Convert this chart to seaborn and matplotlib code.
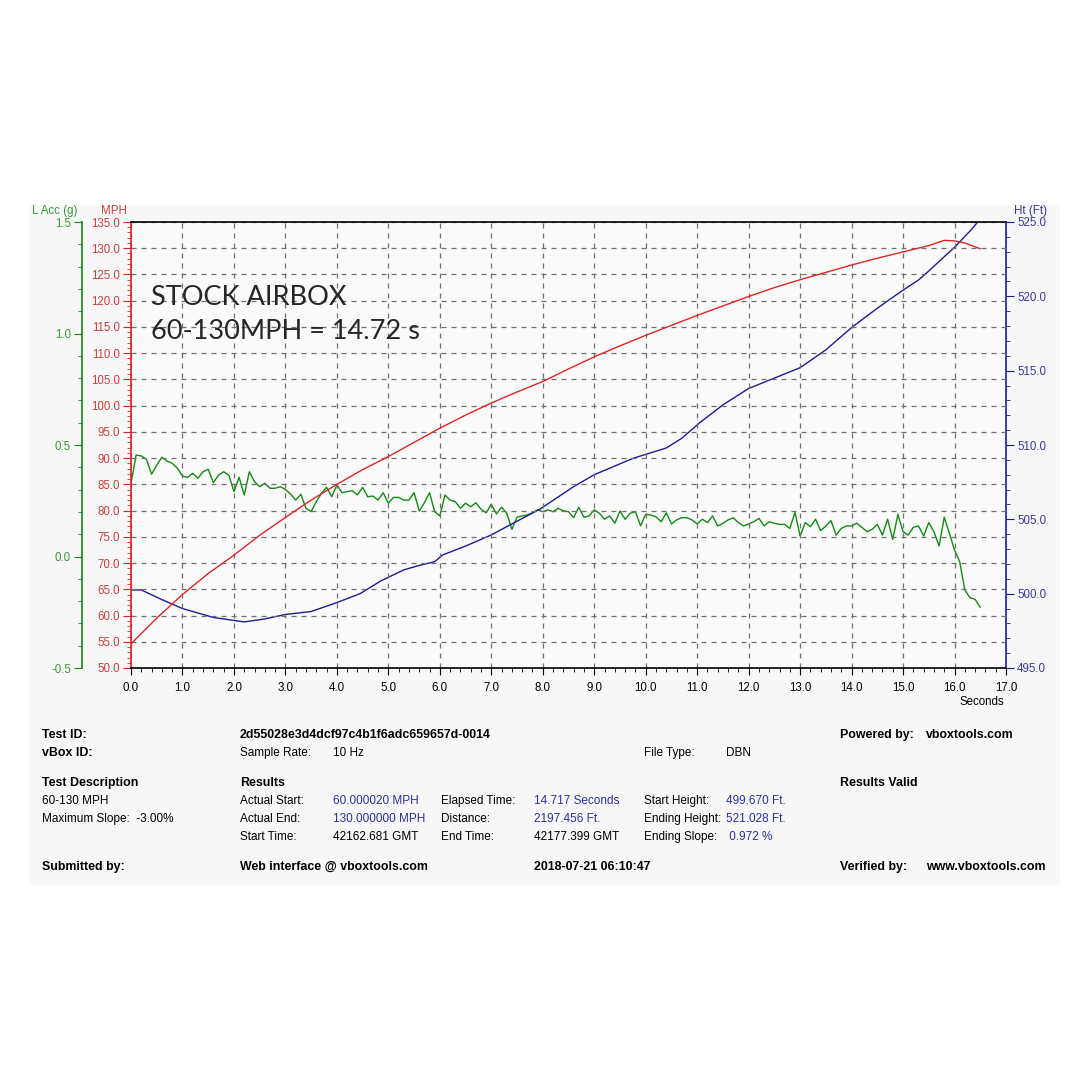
import matplotlib
matplotlib.use("Agg")
import matplotlib.pyplot as plt
import matplotlib.ticker as mticker
from matplotlib.patches import Rectangle
import numpy as np
import pandas as pd
import seaborn as sns

# speed (MPH)
mph_t = [0.0, 0.5, 1.0, 1.5, 2.0, 2.5, 3.0, 3.5, 4.0, 4.5, 5.0, 5.5, 6.0, 6.5, 7.0, 7.5,
         8.0, 8.5, 9.0, 9.5, 10.0, 10.5, 11.0, 11.5, 12.0, 12.5, 13.0, 13.5, 14.0, 14.5,
         15.0, 15.5, 15.8, 16.0, 16.2, 16.5]
mph_v = [54.6, 59.5, 64.0, 68.0, 71.5, 75.3, 78.7, 82.0, 85.0, 87.8, 90.3, 93.0, 95.7, 98.2,
         100.5, 102.6, 104.6, 107.0, 109.3, 111.4, 113.4, 115.3, 117.2, 119.0, 120.8, 122.5,
         124.0, 125.4, 126.8, 128.1, 129.3, 130.5, 131.5, 131.4, 131.0, 129.9]

# height (ft)
ht_t = [0.0, 0.2, 0.6, 1.0, 1.6, 2.0, 2.2, 2.6, 3.0, 3.5, 4.0, 4.45, 4.85, 5.3, 5.6, 5.9,
        6.05, 6.5, 7.0, 7.35, 7.95, 8.6, 9.0, 9.75, 10.4, 10.7, 11.05, 11.5, 12.0, 12.5,
        13.0, 13.5, 14.0, 14.5, 14.95, 15.3, 15.45, 16.0, 16.33, 16.45]
ht_v = [500.25, 500.25, 499.6, 499.0, 498.4, 498.2, 498.1, 498.3, 498.6, 498.8, 499.4, 500.0,
        500.85, 501.6, 501.9, 502.15, 502.6, 503.2, 503.95, 504.6, 505.7, 507.2, 508.0, 509.1,
        509.8, 510.45, 511.5, 512.7, 513.8, 514.5, 515.2, 516.4, 517.9, 519.2, 520.3, 521.1,
        521.55, 523.3, 524.5, 525.0]

# longitudinal acceleration (g), logged at 10 Hz from t = 0
SAMPLE_RATE = 10
acc_g = [0.328, 0.455, 0.451, 0.436, 0.369, 0.410, 0.445, 0.428, 0.418, 0.396, 0.361, 0.355,
         0.373, 0.351, 0.380, 0.391, 0.331, 0.365, 0.380, 0.365, 0.291, 0.355, 0.276, 0.380,
         0.335, 0.313, 0.328, 0.306, 0.306, 0.313, 0.301, 0.280, 0.253, 0.279, 0.216, 0.201,
         0.246, 0.283, 0.310, 0.268, 0.321, 0.286, 0.291,
         0.295, 0.276, 0.310, 0.268, 0.271, 0.253, 0.286, 0.239, 0.265, 0.265, 0.253, 0.253,
         0.286, 0.204, 0.241, 0.286, 0.201, 0.182, 0.276, 0.253, 0.246, 0.216, 0.239, 0.223,
         0.241, 0.212, 0.196, 0.234, 0.191, 0.221, 0.194, 0.122, 0.176, 0.182, 0.186, 0.196,
         0.209, 0.201, 0.209, 0.201, 0.216,
         0.205, 0.201, 0.174, 0.221, 0.176, 0.182, 0.209, 0.194, 0.167, 0.182, 0.149, 0.204,
         0.167, 0.194, 0.201, 0.138, 0.189, 0.186, 0.178, 0.156, 0.196, 0.146, 0.164, 0.174,
         0.174, 0.164, 0.146, 0.167, 0.152, 0.182, 0.137, 0.149, 0.164, 0.174, 0.152, 0.137,
         0.146, 0.156, 0.171, 0.137, 0.156,
         0.149, 0.144, 0.144, 0.126, 0.198, 0.092, 0.152, 0.134, 0.167, 0.116, 0.137, 0.161,
         0.096, 0.126, 0.137, 0.137, 0.149, 0.131, 0.111, 0.122, 0.144, 0.096, 0.167, 0.077,
         0.189, 0.111, 0.096, 0.131, 0.137, 0.092, 0.152, 0.111, 0.047, 0.176, 0.104, 0.029,
         -0.023, -0.150, -0.185, -0.192, -0.228]

RED = "#e02424"
BLUE = "#1c1c96"
GREEN = "#138a13"
RED_TXT = "#c84040"
BLUE_TXT = "#3a3a9a"
GREEN_TXT = "#3a9a3a"
VAL_BLUE = "#2e2ea0"

sns.set_style("white")
plt.rcParams["font.family"] = ["Liberation Sans", "DejaVu Sans"]

df_mph = pd.DataFrame({"t": mph_t, "mph": mph_v})
df_ht = pd.DataFrame({"t": ht_t, "ht": ht_v})
df_acc = pd.DataFrame({"t": np.arange(len(acc_g)) / SAMPLE_RATE, "g": acc_g})

W = H = 1089
fig = plt.figure(figsize=(10.89, 10.89), dpi=100)
fig.patch.set_facecolor("white")
# light report panel behind chart and table
fig.patches.append(Rectangle((30 / W, 1 - 885 / H), 1030 / W, 680 / H,
                             transform=fig.transFigure, facecolor="#f7f7f7",
                             edgecolor="none", zorder=-10))
fig.patches.append(Rectangle((131 / W, 1 - 668 / H), 875 / W, 446 / H,
                             transform=fig.transFigure, facecolor="#fafafa",
                             edgecolor="none", zorder=-5))

ax = fig.add_axes([131 / W, 1 - 668 / H, 875 / W, 446 / H])
ax_g = ax.twinx()
ax_h = ax.twinx()

sns.lineplot(data=df_acc, x="t", y="g", ax=ax_g, color=GREEN, lw=1.0)
sns.lineplot(data=df_ht, x="t", y="ht", ax=ax_h, color=BLUE, lw=1.0)
sns.lineplot(data=df_mph, x="t", y="mph", ax=ax, color=RED, lw=1.0)
# speed trace on top of the twins
ax.set_zorder(3)
ax.patch.set_visible(False)
ax_g.set_zorder(1)
ax_h.set_zorder(2)

# main (MPH) axis
ax.set_xlim(0, 17)
ax.set_ylim(50, 135)
ax.xaxis.set_major_locator(mticker.MultipleLocator(1))
ax.xaxis.set_minor_locator(mticker.MultipleLocator(0.2))
ax.yaxis.set_major_locator(mticker.MultipleLocator(5))
ax.yaxis.set_minor_locator(mticker.MultipleLocator(1))
ax.xaxis.set_major_formatter(mticker.FormatStrFormatter("%.1f"))
ax.yaxis.set_major_formatter(mticker.FormatStrFormatter("%.1f"))
ax.grid(True, which="major", color="#707070", lw=0.9, ls=(0, (4, 4)))
ax.set_xlabel("")
ax.set_ylabel("")
ax.tick_params(axis="x", which="both", direction="out", colors="black", labelsize=8.3,
               bottom=True, pad=5)
ax.tick_params(axis="x", which="major", length=5)
ax.tick_params(axis="x", which="minor", length=3)
ax.tick_params(axis="y", which="both", direction="out", color=RED, labelcolor=RED_TXT,
               labelsize=8.3, left=True, pad=2)
ax.tick_params(axis="y", which="major", length=6)
ax.tick_params(axis="y", which="minor", length=3)
for s in ["top", "bottom"]:
    ax.spines[s].set_color("black")
    ax.spines[s].set_linewidth(1.2)
ax.spines["left"].set_color(RED)
ax.spines["left"].set_linewidth(1.2)
ax.spines["right"].set_visible(False)

# acceleration axis, offset to the left
ax_g.set_ylim(-0.5, 1.5)
ax_g.yaxis.set_ticks_position("left")
ax_g.yaxis.set_label_position("left")
ax_g.spines["left"].set_position(("outward", 49 * 0.72))
ax_g.spines["left"].set_visible(True)
ax_g.spines["left"].set_color(GREEN)
ax_g.spines["left"].set_linewidth(1.2)
for s in ["right", "top", "bottom"]:
    ax_g.spines[s].set_visible(False)
ax_g.yaxis.set_major_locator(mticker.MultipleLocator(0.5))
ax_g.yaxis.set_minor_locator(mticker.MultipleLocator(0.1))
ax_g.yaxis.set_major_formatter(mticker.FormatStrFormatter("%.1f"))
ax_g.tick_params(axis="y", which="both", direction="out", color=GREEN, labelcolor=GREEN_TXT,
                 labelsize=8.3, pad=2)
ax_g.tick_params(axis="y", which="major", length=6)
ax_g.tick_params(axis="y", which="minor", length=3)
ax_g.set_ylabel("")

# height axis on the right
ax_h.set_ylim(495, 525)
ax_h.yaxis.set_major_locator(mticker.MultipleLocator(5))
ax_h.yaxis.set_minor_locator(mticker.MultipleLocator(1))
ax_h.yaxis.set_major_formatter(mticker.FormatStrFormatter("%.1f"))
ax_h.spines["right"].set_color(BLUE)
ax_h.spines["right"].set_linewidth(1.2)
for s in ["left", "top", "bottom"]:
    ax_h.spines[s].set_visible(False)
ax_h.tick_params(axis="y", which="both", direction="out", color=BLUE, labelcolor=BLUE_TXT,
                 labelsize=8.3, pad=2)
ax_h.tick_params(axis="y", which="major", length=6)
ax_h.tick_params(axis="y", which="minor", length=3)
ax_h.set_ylabel("")

# axis titles
fig.text(32 / W, 1 - 211 / H, "L Acc (g)", color=GREEN_TXT, fontsize=8.3, va="center")
fig.text(101 / W, 1 - 211 / H, "MPH", color=RED_TXT, fontsize=8.3, va="center")
fig.text(1014 / W, 1 - 211 / H, "Ht (Ft)", color=BLUE_TXT, fontsize=8.3, va="center")
fig.text(1004 / W, 1 - 702 / H, "Seconds", color="black", fontsize=8.3, va="center", ha="right")

# annotation
fig.text(151 / W, 1 - 305 / H, "STOCK AIRBOX", fontsize=19.5, family="Lato", va="baseline")
fig.text(151 / W, 1 - 339 / H, "60-130MPH = 14.72 s", fontsize=19.5, family="Lato",
         va="baseline")

# report table underneath
FS = 8.5
FSB = 8.9
def t(x, y, s, bold=False, color="black"):
    fig.text(x / W, 1 - y / H, s, fontsize=FSB if bold else FS, va="center",
             fontweight="bold" if bold else "normal", color=color)

C1, C2, C3, C4, C5, C6, C7, C8, C9 = 42, 240, 333, 441, 534, 644, 726, 840, 926

t(C1, 735, "Test ID:", True)
t(C2, 735, "2d55028e3d4dcf97c4b1f6adc659657d-0014", True)
t(C8, 735, "Powered by:", True)
t(C9, 735, "vboxtools.com", True)

t(C1, 753, "vBox ID:", True)
t(C2, 753, "Sample Rate:")
t(C3, 753, "10 Hz")
t(C6, 753, "File Type:")
t(C7, 753, "DBN")

t(C1, 783, "Test Description", True)
t(C2, 783, "Results", True)
t(C8, 783, "Results Valid", True)

t(C1, 801, "60-130 MPH")
t(C2, 801, "Actual Start:")
t(C3, 801, "60.000020 MPH", color=VAL_BLUE)
t(C4, 801, "Elapsed Time:")
t(C5, 801, "14.717 Seconds", color=VAL_BLUE)
t(C6, 801, "Start Height:")
t(C7, 801, "499.670 Ft.", color=VAL_BLUE)

t(C1, 819, "Maximum Slope:  -3.00%")
t(C2, 819, "Actual End:")
t(C3, 819, "130.000000 MPH", color=VAL_BLUE)
t(C4, 819, "Distance:")
t(C5, 819, "2197.456 Ft.", color=VAL_BLUE)
t(C6, 819, "Ending Height:")
t(C7, 819, "521.028 Ft.", color=VAL_BLUE)

t(C2, 837, "Start Time:")
t(C3, 837, "42162.681 GMT")
t(C4, 837, "End Time:")
t(C5, 837, "42177.399 GMT")
t(C6, 837, "Ending Slope:")
t(C7, 837, " 0.972 %", color=VAL_BLUE)

t(C1, 867, "Submitted by:", True)
t(C2, 867, "Web interface @ vboxtools.com", True)
t(C5, 867, "2018-07-21 06:10:47", True)
t(C8, 867, "Verified by:", True)
t(C9, 867, "www.vboxtools.com", True)

fig.savefig("out.png", dpi=100)
